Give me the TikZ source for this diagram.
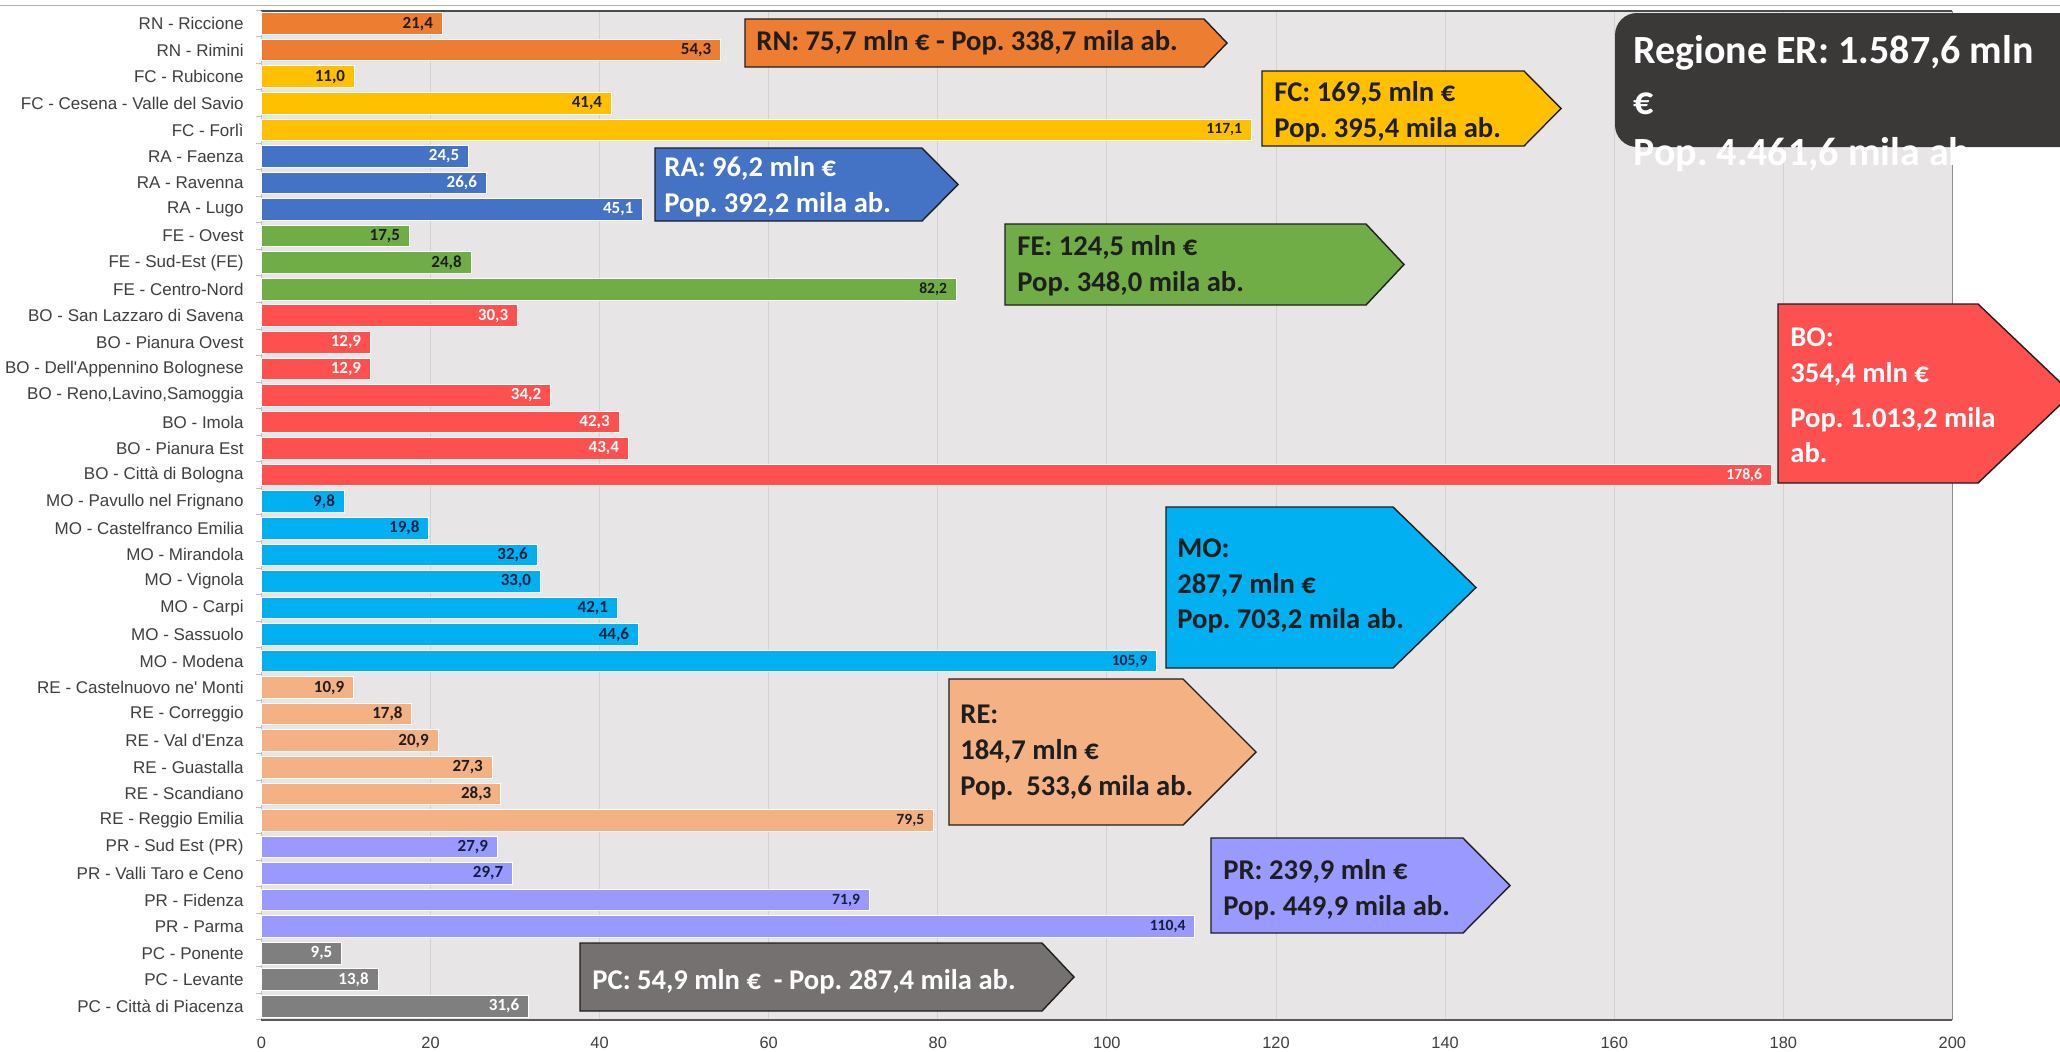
\documentclass[tikz,border=0pt]{standalone}
\usepackage{fontspec}
\setmainfont{Carlito}
\newfontfamily\labfont{Liberation Sans}
\definecolor{rnorange}{HTML}{ED7D31}
\definecolor{fcgold}{HTML}{FFC000}
\definecolor{rablue}{HTML}{4472C4}
\definecolor{fegreen}{HTML}{70AD47}
\definecolor{bored}{HTML}{FF5050}
\definecolor{mocyan}{HTML}{00B0F0}
\definecolor{repeach}{HTML}{F4B183}
\definecolor{prlilac}{HTML}{9999FF}
\definecolor{pcgray}{HTML}{7F7F7F}
\definecolor{pcbox}{HTML}{767171}
\definecolor{erdark}{HTML}{3B3838}
\definecolor{plotbg}{HTML}{E7E5E6}
\definecolor{gridgray}{HTML}{D3D1D2}
\definecolor{labgray}{HTML}{3F3F3F}
\definecolor{ink}{HTML}{1E1E1E}
\definecolor{navyink}{HTML}{10213F}
\usepackage{tikz}
\pgfkeys{/pgf/number format/.cd,fixed,fixed zerofill,precision=1,use comma,assume math mode=true}
\newcommand\numbig{\bfseries\fontsize{8.5}{10}\selectfont}
\newcommand\numsmall{\bfseries\fontsize{7.8}{9}\selectfont}
\frenchspacing

\begin{document}
\begin{tikzpicture}[x=0.5pt,y=-0.5pt,
  bar/.style={draw=white,line width=0.5pt},
  lab/.style={anchor=east,inner sep=0pt,text=labgray,font=\labfont\fontsize{8.5}{10}\selectfont},
  num/.style={anchor=east,inner sep=0pt},
  axlab/.style={inner sep=0pt,text=labgray,font=\labfont\fontsize{8.2}{10}\selectfont},
  gridln/.style={draw=gridgray,line width=0.5pt},
  callout/.style={draw=ink,line width=0.7pt,line join=miter},
  ctext/.style={anchor=west,align=left,inner sep=0pt,font=\bfseries\fontsize{14.3}{17.8}\selectfont}]
  % canvas
  \useasboundingbox (0,0) rectangle (2060,1051);
  \clip (0,0) rectangle (2060,1051);
  \fill[white] (0,0) rectangle (2060,1051);
  % plot area and grid
  \fill[plotbg] (261.4,11) rectangle (1952,1019.5);
  \foreach \t in {20,40,...,180}
    \draw[gridln] (261.4+8.455*\t,11) -- (261.4+8.455*\t,1019.5);
  \draw[gray!60,line width=0.6pt] (0,5.5) -- (2060,5.5);
  \draw[black!70,line width=0.8pt] (261.4,11) -- (1952,11);
  \draw[black!45,line width=0.5pt] (1952,11) -- (1952,1019.5);
  \draw[black!25,line width=0.5pt] (261.4,11) -- (261.4,1019.5);
  \foreach \k in {0,...,38}
    \draw[black!25,line width=0.5pt] (255.5,10.3+26.56*\k) -- (261.4,10.3+26.56*\k);
  \draw[black!65,line width=1pt] (261.4,1019.5) -- (1952,1019.5);
  \foreach \t in {0,20,...,200}
    \node[axlab] (ax\t) at (261.4+8.455*\t,1043) {\t};
  % bars
  \foreach \lab/\val/\col/\tcol/\nf [count=\i from 0] in {
    {RN - Riccione}/21.4/rnorange/ink/\numbig,
    {RN - Rimini}/54.3/rnorange/ink/\numbig,
    {FC - Rubicone}/11.0/fcgold/ink/\numbig,
    {FC - Cesena - Valle del Savio}/41.4/fcgold/ink/\numbig,
    {FC - Forlì}/117.1/fcgold/ink/\numsmall,
    {RA - Faenza}/24.5/rablue/white/\numbig,
    {RA - Ravenna}/26.6/rablue/white/\numbig,
    {RA - Lugo}/45.1/rablue/white/\numbig,
    {FE - Ovest}/17.5/fegreen/ink/\numbig,
    {FE - Sud-Est (FE)}/24.8/fegreen/ink/\numbig,
    {FE - Centro-Nord}/82.2/fegreen/ink/\numsmall,
    {BO - San Lazzaro di Savena}/30.3/bored/white/\numbig,
    {BO - Pianura Ovest}/12.9/bored/white/\numbig,
    {BO - Dell'Appennino Bolognese}/12.9/bored/white/\numbig,
    {BO - Reno,Lavino,Samoggia}/34.2/bored/white/\numbig,
    {BO - Imola}/42.3/bored/white/\numbig,
    {BO - Pianura Est}/43.4/bored/white/\numbig,
    {BO - Città di Bologna}/178.6/bored/white/\numsmall,
    {MO - Pavullo nel Frignano}/9.8/mocyan/navyink/\numbig,
    {MO - Castelfranco Emilia}/19.8/mocyan/navyink/\numbig,
    {MO - Mirandola}/32.6/mocyan/navyink/\numbig,
    {MO - Vignola}/33.0/mocyan/navyink/\numbig,
    {MO - Carpi}/42.1/mocyan/navyink/\numbig,
    {MO - Sassuolo}/44.6/mocyan/navyink/\numbig,
    {MO - Modena}/105.9/mocyan/navyink/\numsmall,
    {RE - Castelnuovo ne' Monti}/10.9/repeach/ink/\numbig,
    {RE - Correggio}/17.8/repeach/ink/\numbig,
    {RE - Val d'Enza}/20.9/repeach/ink/\numbig,
    {RE - Guastalla}/27.3/repeach/ink/\numbig,
    {RE - Scandiano}/28.3/repeach/ink/\numbig,
    {RE - Reggio Emilia}/79.5/repeach/ink/\numsmall,
    {PR - Sud Est (PR)}/27.9/prlilac/navyink/\numbig,
    {PR - Valli Taro e Ceno}/29.7/prlilac/navyink/\numbig,
    {PR - Fidenza}/71.9/prlilac/navyink/\numsmall,
    {PR - Parma}/110.4/prlilac/navyink/\numsmall,
    {PC - Ponente}/9.5/pcgray/white/\numbig,
    {PC - Levante}/13.8/pcgray/white/\numbig,
    {PC - Città di Piacenza}/31.6/pcgray/white/\numbig}{
    \pgfmathsetmacro\yc{23.6+26.56*\i}
    \pgfmathsetmacro\xe{261.4+8.455*\val}
    \filldraw[bar,fill=\col] (261.4,\yc-10.8) rectangle (\xe,\yc+10.8);
    \node[lab] (c\i) at (244,\yc) {\lab};
    \node[num,text=\tcol,font=\nf] (v\i) at (\xe-9,\yc) {\pgfmathprintnumber{\val}};
  }
  % RN
  \draw[callout,fill=rnorange] (745,19) -- (1204,19) -- (1227,43) -- (1204,67) -- (745,67) -- cycle;
  \node[ctext,text=ink] (rntxt) at (756,43) {RN: 75,7 mln € - Pop. 338,7 mila ab.};
  % FC
  \draw[callout,fill=fcgold] (1262,71) -- (1524,71) -- (1561,108.5) -- (1524,146) -- (1262,146) -- cycle;
  \node[ctext,text=ink] (fctxt) at (1274,111.5) {FC: 169,5 mln €\\Pop. 395,4 mila ab.};
  % RA
  \draw[callout,fill=rablue] (655,148) -- (922,148) -- (958,184.5) -- (922,221) -- (655,221) -- cycle;
  \node[ctext,text=white] (ratxt) at (664,187) {RA: 96,2 mln €\\Pop. 392,2 mila ab.};
  % FE
  \draw[callout,fill=fegreen] (1005,224) -- (1366,224) -- (1404,264.5) -- (1366,305) -- (1005,305) -- cycle;
  \node[ctext,text=ink] (fetxt) at (1017,266) {FE: 124,5 mln €\\Pop. 348,0 mila ab.};
  % BO
  \draw[callout,fill=bored] (1778,304) -- (1978,304) -- (2072,393.5) -- (1978,483) -- (1778,483) -- cycle;
  \node[ctext,text=white] (botxt) at (1790,395.5) {BO:\\354,4 mln €\\[4.5pt]Pop. 1.013,2 mila\\ab.};
  % MO
  \draw[callout,fill=mocyan] (1166,507) -- (1393,507) -- (1476,587.5) -- (1393,668) -- (1166,668) -- cycle;
  \node[ctext,text=ink] (motxt) at (1177,586) {MO:\\287,7 mln €\\Pop. 703,2 mila ab.};
  % RE
  \draw[callout,fill=repeach] (949,679) -- (1183,679) -- (1256,752) -- (1183,825) -- (949,825) -- cycle;
  \node[ctext,text=ink] (retxt) at (960,752.5) {RE:\\184,7 mln €\\Pop.\ \ 533,6 mila ab.};
  % PR
  \draw[callout,fill=prlilac] (1211,838) -- (1463,838) -- (1510,885.5) -- (1463,933) -- (1211,933) -- cycle;
  \node[ctext,text=ink] (prtxt) at (1223,889.5) {PR: 239,9 mln €\\Pop. 449,9 mila ab.};
  % PC
  \draw[callout,fill=pcbox] (580,943) -- (1042,943) -- (1074,977) -- (1042,1011) -- (580,1011) -- cycle;
  \node[ctext,text=white] (pctxt) at (592,982) {PC: 54,9 mln €\ \ - Pop. 287,4 mila ab.};
  % whole region
  \fill[erdark,rounded corners=11pt] (1615,13) rectangle (2100,147);
  \node[anchor=west,align=left,inner sep=0pt,text=white,font=\bfseries\fontsize{20}{25.5}\selectfont]
    (ertxt) at (1633,104) {Regione ER: 1.587,6 mln\\€\\Pop. 4.461,6 mila ab.};
\end{tikzpicture}
\end{document}
